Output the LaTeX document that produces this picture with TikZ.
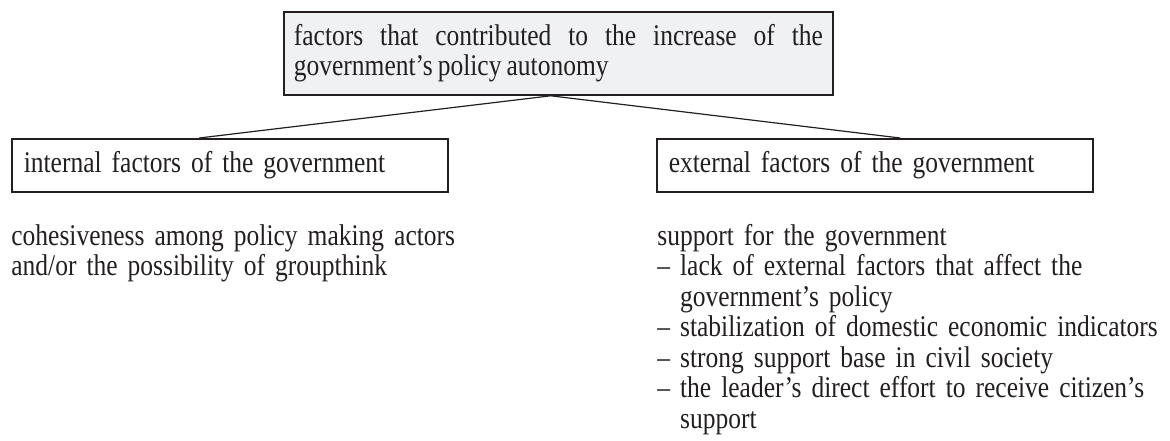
\documentclass[tikz,border=0pt]{standalone}
\usepackage{fontspec}
\setmainfont{Liberation Serif}[FakeStretch=0.85,WordSpace=0.8]
\usetikzlibrary{calc,positioning}
\definecolor{ink}{HTML}{231F20}
\definecolor{boxfill}{HTML}{F0F1F3}
\tikzset{topbox/.style={draw=ink, fill=boxfill, line width=.9pt, anchor=north west, inner xsep=5pt, align=justify, text width=264.5pt, minimum height=41.5pt}, subbox/.style={draw=ink, line width=.8pt, anchor=north west, inner xsep=6pt, align=left, text width=206pt, minimum height=26.5pt}, txt/.style={anchor=base west, inner sep=0pt, align=left}, link/.style={draw=ink, line width=.6pt}}
\newcommand{\ind}{\hphantom{–\ }}

\begin{document}
\begin{tikzpicture}[x=.5pt,y=-.5pt,font=\fontsize{15pt}{15.25pt}\selectfont,text=ink]
\useasboundingbox (0,0) rectangle (1170,440);
\node[topbox] (goal) at (283,11) {factors that contributed to the increase of the\linebreak government’s policy autonomy};
\node[subbox] (intern) at (11,138) {internal factors of the government};
\node[subbox] (extern) at (656,138) {external factors of the government};
% branches from the top box
\coordinate (apex) at ($(goal.south west)!.486!(goal.south east)$);
\coordinate (inttop) at ($(intern.north west)!.43!(intern.north east)$);
\coordinate (exttop) at ($(extern.north west)!.558!(extern.north east)$);
\draw[link] (inttop) -- (apex) -- (exttop);
% lists under the boxes
\node[txt, text width=250pt] (cohes) at (11,245) {cohesiveness among policy making actors\\and/or the possibility of groupthink};
\node[txt, text width=256pt] (support) at (657,245) {support for the government\\– lack of external factors that affect the\\\ind government’s policy\\– stabilization of domestic economic indicators\\– strong support base in civil society\\– the leader’s direct effort to receive citizen’s\\\ind support};
\end{tikzpicture}
\end{document}
